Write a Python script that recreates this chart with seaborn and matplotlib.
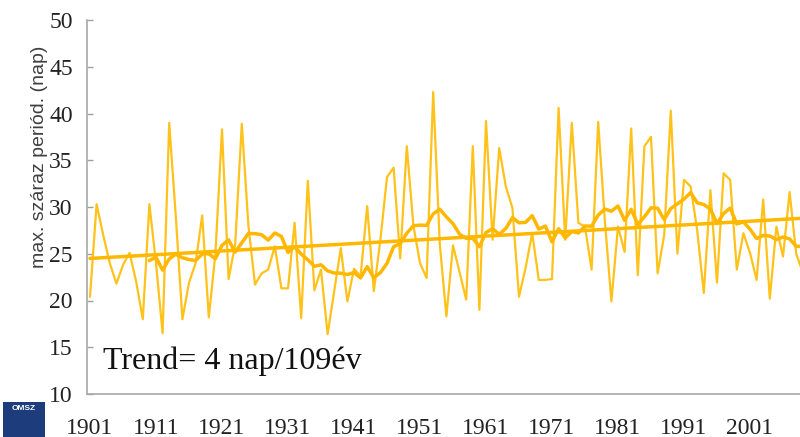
import matplotlib
matplotlib.use("Agg")
import matplotlib.pyplot as plt
import seaborn as sns
import numpy as np
import pandas as pd
from matplotlib.patches import Rectangle

# ---- data ----
years = list(range(1901, 2010))
values = [
    20.4, 30.3, 27.0, 24.0, 21.8, 23.8, 25.1, 22.0, 18.0, 30.3,   # 1901-1910
    24.0, 16.5, 39.0, 29.0, 18.0, 21.9, 24.0, 29.1, 18.2, 25.0,   # 1911-1920
    38.3, 22.3, 26.0, 38.9, 28.0, 21.7, 22.9, 23.3, 25.8, 21.3,   # 1921-1930
    21.3, 28.3, 18.1, 32.8, 21.1, 23.3, 16.4, 21.0, 25.6, 19.9,   # 1931-1940
    23.4, 22.6, 30.1, 21.0, 26.5, 33.2, 34.2, 24.5, 36.5, 28.0,   # 1941-1950
    24.0, 22.4, 42.3, 26.0, 18.3, 25.9, 23.0, 20.1, 36.5, 19.0,   # 1951-1960
    39.2, 26.5, 36.3, 32.2, 29.9, 20.4, 23.5, 27.2, 22.2, 22.2,   # 1961-1970
    22.3, 40.6, 26.5, 39.0, 28.3, 27.9, 23.3, 39.1, 28.6, 19.9,   # 1971-1980
    27.9, 25.2, 38.4, 22.7, 36.5, 37.5, 22.9, 27.0, 40.3, 25.0,   # 1981-1990
    32.9, 32.2, 27.5, 20.8, 31.8, 21.9, 33.6, 32.9, 23.3, 27.2,   # 1991-2000
    25.1, 22.2, 30.8, 20.2, 27.9, 24.7, 31.6, 25.0, 23.0          # 2001-2009
]
trend_years = [1901, 2009]
trend_values = [24.5, 28.8]
x_tick_labels = ["1901", "1911", "1921", "1931", "1941", "1951",
                 "1961", "1971", "1981", "1991", "2001"]
y_ticks = [10, 15, 20, 25, 30, 35, 40, 45, 50]
ma_window = 10

df = pd.DataFrame({"year": years, "value": values})
df["ma"] = df["value"].rolling(ma_window).mean()
trend_df = pd.DataFrame({"year": trend_years, "value": trend_values})

sns.set_style("white")
plt.rcParams["font.family"] = ["Liberation Serif", "DejaVu Serif"]

W, H = 800, 437
fig = plt.figure(figsize=(W / 100, H / 100), dpi=100)
left_px, right_px, top_px, bot_px = 86.7, 806.1, 20, 394
ax = fig.add_axes([left_px / W, (H - bot_px) / H,
                   (right_px - left_px) / W, (bot_px - top_px) / H])

line_c = "#FFC21A"
thick_c = "#FFB700"
sns.lineplot(data=df, x="year", y="value", ax=ax, color=line_c, lw=1.6,
             solid_joinstyle="round")
sns.lineplot(data=df, x="year", y="ma", ax=ax, color=thick_c, lw=2.5,
             solid_joinstyle="round")
sns.lineplot(data=trend_df, x="year", y="value", ax=ax, color=thick_c, lw=2.5)

ax.set_xlim(1900.5, 2009.5)
ax.set_ylim(10, 50)

# x labels centred on categories, tick marks between categories
ax.set_xticks([int(s) for s in x_tick_labels])
ax.set_xticklabels(x_tick_labels, fontsize=17, color="#222222")
ax.set_xticks([int(s) - 0.5 for s in x_tick_labels[1:]], minor=True)
ax.tick_params(axis="x", which="major", length=0, pad=17)
ax.tick_params(axis="x", which="minor", direction="in", length=4,
               width=1, color="#A0A0A0")

ax.set_yticks(y_ticks)
ax.set_yticklabels([str(v) for v in y_ticks], fontsize=17, color="#222222")
ax.tick_params(axis="y", direction="in", length=4, width=1,
               color="#A0A0A0", pad=10, left=True)

for s in ["top", "right"]:
    ax.spines[s].set_visible(False)
for s in ["left", "bottom"]:
    ax.spines[s].set_color("#A8A8A8")
    ax.spines[s].set_linewidth(1.2)

ax.set_xlabel("")
ax.set_ylabel("")
fig.text(40 / W, (H - 157) / H, "max. száraz periód. (nap)", rotation=90,
         ha="center", va="center", fontsize=14, color="#404040",
         family=["Liberation Sans", "DejaVu Sans"])

fig.text(103 / W, (H - 369) / H, "Trend= 4 nap/109év", fontsize=23,
         ha="left", va="baseline", color="#111111")

# OMSZ logo box
fig.patches.append(Rectangle((3 / W, 0), 42 / W, 35 / H,
                             transform=fig.transFigure, facecolor="#1D3C7C",
                             edgecolor="none"))
fig.text(24 / W, (H - 409) / H, "OMSZ", fontsize=6, color="white",
         ha="center", va="center", family=["Liberation Sans", "DejaVu Sans"],
         weight="bold")

fig.savefig("out.png", dpi=100)
